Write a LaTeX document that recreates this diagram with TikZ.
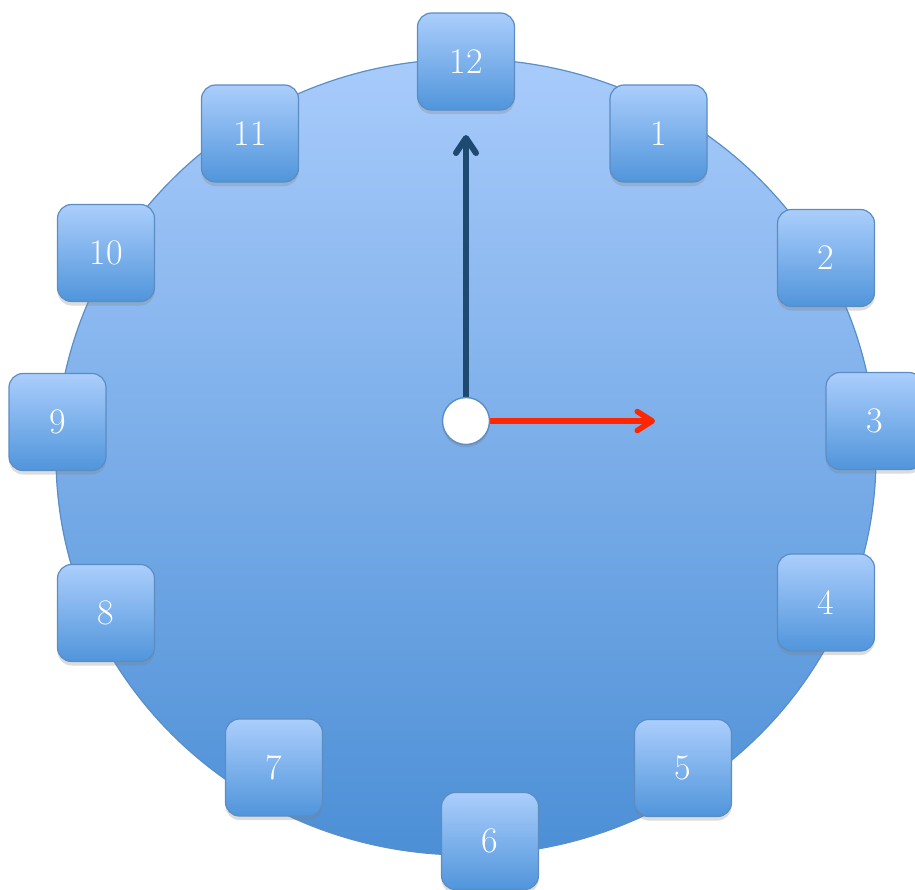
\documentclass[tikz,border=0pt]{standalone}
\usepackage{fontspec}
\usetikzlibrary{arrows.meta,shadows,shapes.geometric}
\definecolor{facetop}{HTML}{A8CBFB}
\definecolor{facebot}{HTML}{4C8FD6}
\definecolor{faceedge}{HTML}{5A8EC6}
\definecolor{boxtop}{HTML}{ABCEFC}
\definecolor{boxbot}{HTML}{5095DB}
\definecolor{boxedge}{HTML}{5B8DC3}
\definecolor{hourcol}{HTML}{1E4A72}
\definecolor{mincol}{HTML}{FF2600}
\tikzset{
  face/.style={ellipse, minimum width=820pt, minimum height=796pt, inner sep=0pt,
    top color=facetop, bottom color=facebot, draw=faceedge, line width=1.2pt},
  numbox/.style={rectangle, rounded corners=14pt, minimum width=97pt, minimum height=97pt,
    inner sep=0pt, top color=boxtop, bottom color=boxbot, draw=boxedge, line width=1.2pt,
    text=white, font=\fontsize{36}{36}\selectfont,
    drop shadow={opacity=0.28, shadow xshift=0pt, shadow yshift=-4pt}},
  hub/.style={circle, minimum size=47pt, inner sep=0pt, fill=white, draw=faceedge,
    line width=1.4pt, drop shadow={opacity=0.3, shadow xshift=0pt, shadow yshift=-3pt}},
  hourhand/.style={draw=hourcol, line width=6pt,
    -{Straight Barb[length=15pt,width=20pt,round]}},
  minhand/.style={draw=mincol, line width=5.5pt,
    -{Straight Barb[length=15pt,width=19pt,round]}},
}
\begin{document}
\begin{tikzpicture}[x=1pt,y=-1pt]
\useasboundingbox (0,0) rectangle (915,889);
\node[face] (face) at (466,457) {};
\coordinate (ctr) at (466,421);
\coordinate (hourtip) at (466,135);
\coordinate (mintip) at (655,421);
\draw[hourhand] (ctr) -- (hourtip);
\draw[minhand] (ctr) -- (mintip);
\node[hub] (hub) at (ctr) {};
\node[numbox] (n12) at (466,61.5) {12};
\node[numbox] (n1) at (658.5,133.5) {1};
\node[numbox] (n2) at (826,258) {2};
\node[numbox] (n3) at (874.5,421) {3};
\node[numbox] (n4) at (826,602.5) {4};
\node[numbox] (n5) at (683,768) {5};
\node[numbox] (n6) at (490,841) {6};
\node[numbox] (n7) at (274,767.5) {7};
\node[numbox] (n8) at (106,613) {8};
\node[numbox] (n9) at (57.5,422) {9};
\node[numbox] (n10) at (106,253) {10};
\node[numbox] (n11) at (250,133.5) {11};
\end{tikzpicture}
\end{document}
